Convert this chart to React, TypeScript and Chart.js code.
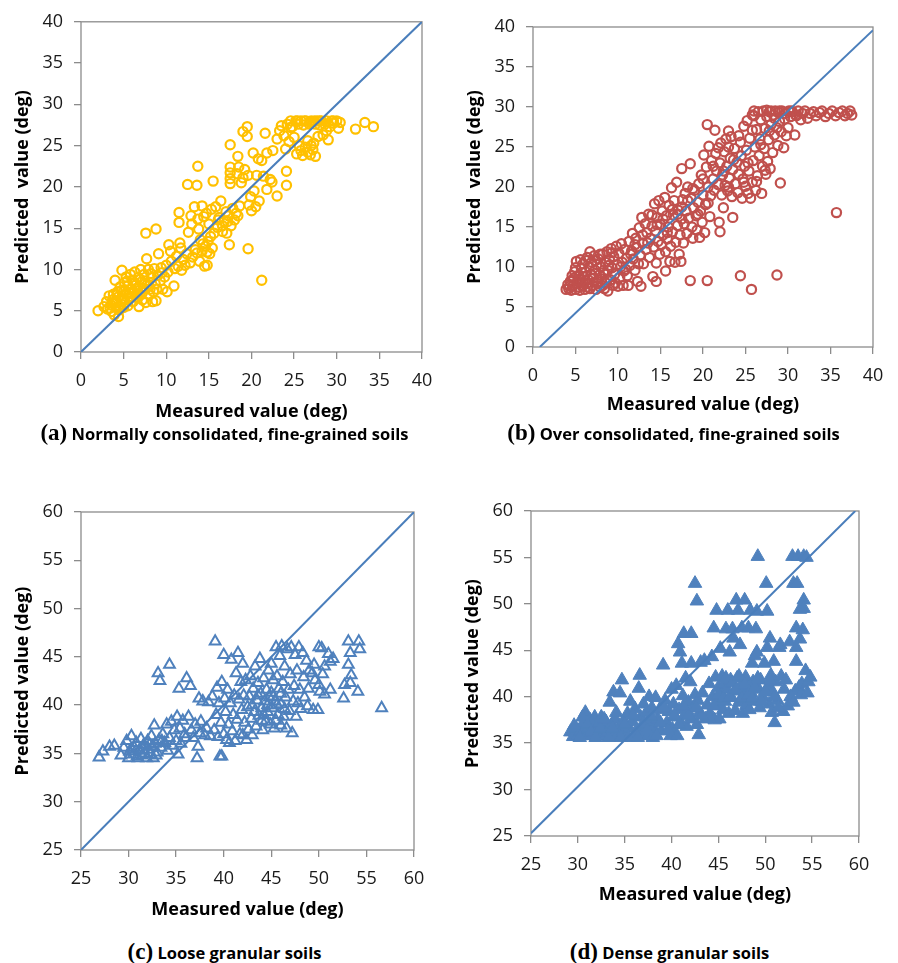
import React, { useEffect, useRef } from 'react';
import { Chart, registerables } from 'chart.js';
Chart.register(...registerables);

type Pt = [number, number];

// Panel (a): Normally consolidated, fine-grained soils  [measured, predicted]
const panelA: Pt[] = [
  [2.0,5.0],[2.7,5.5],[3.0,6.1],[3.1,5.2],[3.3,6.8],[3.5,5.7],[3.6,4.9],[3.7,6.3],[3.8,7.0],[3.9,4.5],
  [4.0,8.7],[4.1,5.4],[4.2,6.0],[4.3,7.3],[4.4,4.3],[4.4,6.7],[4.5,5.1],[4.6,7.9],[4.7,5.8],[4.8,9.9],
  [4.9,6.4],[5.0,7.3],[5.0,5.4],[5.1,8.4],[5.2,6.0],[5.3,9.1],[5.4,7.0],[5.5,5.6],[5.5,8.0],[5.7,6.6],
  [5.8,9.4],[5.9,7.6],[6.0,8.7],[6.1,6.1],[6.2,7.2],[6.3,9.7],[6.4,8.1],[6.5,6.6],[6.6,7.6],[6.7,9.0],
  [6.8,5.5],[6.9,7.0],[7.0,10.0],[7.1,8.5],[7.2,6.3],[7.3,7.7],[7.4,9.4],[7.6,6.0],[7.7,11.3],[7.6,14.4],
  [7.8,8.2],[7.9,10.0],[8.0,6.9],[8.1,7.6],[8.2,9.5],[8.4,6.1],[8.5,7.3],[8.6,10.1],[8.8,14.9],[8.7,8.3],
  [8.8,6.2],[9.0,9.3],[9.1,11.9],[9.3,8.6],[9.4,10.2],[9.6,7.6],[9.8,9.1],[10.0,10.5],[10.1,7.3],[10.2,9.7],
  [10.3,13.0],[10.5,12.2],[10.6,11.0],[10.9,8.0],[11.0,10.1],[11.2,11.6],[11.4,10.4],[11.5,16.9],[11.5,15.7],[11.6,13.2],
  [11.7,12.6],[11.8,9.9],[12.0,11.2],[12.2,10.5],[12.4,11.9],[12.5,20.3],[12.6,14.5],[12.8,10.8],[12.9,16.5],[13.0,15.5],
  [13.1,11.5],[13.3,17.6],[13.4,12.4],[13.6,20.2],[13.7,16.1],[13.7,22.5],[13.8,14.9],[13.9,11.0],[14.0,13.6],[14.2,17.7],
  [14.2,12.2],[14.4,16.4],[14.5,10.4],[14.6,12.8],[14.7,16.8],[14.8,10.5],[14.9,13.4],[15.0,15.5],[15.1,11.9],[15.3,17.3],
  [15.4,12.6],[15.5,20.7],[15.6,14.4],[15.8,17.6],[16.0,15.1],[16.2,16.3],[16.4,18.3],[16.6,14.6],[16.8,15.8],[17.0,17.0],
  [17.1,14.4],[17.3,16.5],[17.4,13.0],[17.5,25.1],[17.5,22.4],[17.5,21.7],[17.5,21.0],[17.5,20.4],[17.6,15.3],[17.8,17.4],
  [18.0,16.0],[18.2,16.8],[18.3,21.6],[18.4,23.7],[18.5,22.4],[18.6,17.7],[18.8,20.5],[19.0,26.7],[19.0,21.1],[19.2,22.1],
  [19.5,27.3],[19.5,26.1],[19.6,12.5],[19.6,21.4],[19.7,17.8],[19.9,18.8],[20.0,17.1],[20.2,24.1],[20.3,19.5],[20.5,17.6],
  [20.6,21.4],[20.8,23.4],[20.9,18.3],[21.2,23.2],[21.2,8.7],[21.4,21.3],[21.6,26.5],[21.8,24.1],[21.8,19.7],[22.2,20.9],
  [22.4,20.6],[22.5,24.4],[23.0,18.9],[23.0,25.8],[23.3,26.8],[23.5,27.4],[23.8,26.2],[24.0,24.6],[24.1,21.9],[24.1,20.2],
  [24.2,27.6],[24.4,25.5],[24.6,28.0],[24.8,27.3],[25.0,26.0],[25.2,28.0],[25.3,24.0],[25.5,27.6],[25.6,25.0],[25.8,28.0],
  [26.0,23.8],[26.1,27.5],[26.3,24.8],[26.4,28.0],[26.6,25.6],[26.8,27.6],[26.9,23.9],[27.0,28.0],[27.2,24.5],[27.3,25.3],
  [27.5,27.6],[27.5,23.7],[27.7,28.0],[27.8,26.1],[28.0,27.5],[28.2,28.0],[28.4,26.3],[28.6,27.6],[28.8,28.0],[29.0,25.7],
  [29.2,27.3],[29.4,28.0],[29.6,27.7],[30.0,28.0],[30.2,27.1],[30.4,27.8],[32.2,27.0],[33.3,27.8],[34.3,27.3],
  [3.4,5.3],[3.8,6.0],[4.2,6.9],[4.5,5.6],[4.8,7.5],[5.1,6.4],[5.4,8.6],[5.7,7.2],[6.0,6.7],[6.3,8.4],
  [6.6,7.0],[6.9,8.8],[7.2,7.2],[7.5,8.6],[8.0,8.0],[8.3,9.0],[8.9,7.6],[9.5,9.6],[13.6,12.0],[14.3,13.1],
  [14.8,12.1],[15.2,14.0],[16.1,16.0],[16.6,15.3],[17.2,15.8],[18.4,16.5],[24.6,27.2],[25.4,28.0],[26.2,28.0],[26.9,27.8],
  [27.4,28.0],[28.0,28.0],[25.8,24.4],[26.6,24.2],[27.0,25.0],[28.8,26.8],[29.6,28.0]
];

// Panel (b): Over consolidated, fine-grained soils
const panelB: Pt[] = [
  [3.9,7.2],[4.1,7.8],[4.2,7.3],[4.4,8.2],[4.5,7.1],[4.7,7.6],[4.8,8.6],[4.9,9.4],[5.0,7.2],[5.1,10.7],
  [5.2,8.0],[5.3,7.5],[5.4,9.0],[5.5,7.1],[5.6,8.4],[5.7,9.8],[5.8,7.6],[5.9,10.4],[6.0,8.8],[6.1,7.2],
  [6.2,9.4],[6.3,7.9],[6.4,11.2],[6.5,8.4],[6.6,10.0],[6.7,7.3],[6.7,11.9],[6.8,9.1],[6.9,10.6],[7.0,7.7],
  [7.1,8.6],[7.2,11.4],[7.3,9.6],[7.4,7.2],[7.5,10.3],[7.6,8.2],[7.7,11.0],[7.8,9.0],[7.9,7.5],[8.0,10.0],
  [8.1,8.5],[8.2,11.6],[8.3,9.3],[8.4,7.3],[8.5,10.6],[8.6,8.0],[8.7,11.9],[8.8,9.6],[8.8,7.0],[9.0,10.9],
  [9.1,8.4],[9.2,12.3],[9.3,9.9],[9.4,7.7],[9.5,11.3],[9.6,9.1],[9.8,12.6],[9.9,10.3],[10.0,7.6],[10.1,11.7],
  [10.2,8.7],[10.4,12.9],[10.5,10.6],[10.6,7.7],[10.7,9.5],[10.8,12.2],[11.0,11.1],[11.1,8.9],[11.2,7.7],[11.3,13.2],
  [11.4,10.2],[11.6,12.0],[11.7,14.2],[11.8,11.0],[12.0,9.6],[12.1,13.6],[12.2,12.4],[12.3,8.2],[12.5,14.9],[12.6,11.5],
  [12.7,7.6],[12.8,16.2],[12.9,13.0],[13.0,10.4],[13.2,15.4],[13.3,12.2],[13.4,14.3],[13.6,16.6],[13.7,11.2],[13.8,13.6],
  [14.0,15.1],[14.1,8.8],[14.2,12.5],[14.3,17.9],[14.4,14.5],[14.5,8.2],[14.5,10.5],[14.6,16.2],[14.7,13.2],[14.8,18.3],
  [14.9,11.6],[15.0,15.3],[15.1,12.8],[15.2,17.0],[15.3,14.0],[15.5,18.7],[15.6,9.5],[15.6,11.9],[15.7,16.4],[15.8,13.5],
  [15.9,15.0],[16.0,17.7],[16.1,10.7],[16.2,12.6],[16.3,19.9],[16.4,14.4],[16.5,16.5],[16.6,18.3],[16.7,10.6],[16.8,13.1],
  [16.9,20.6],[17.0,15.2],[17.1,17.1],[17.2,11.6],[17.3,14.0],[17.4,10.7],[17.5,22.3],[17.5,16.0],[17.6,18.4],[17.7,13.0],
  [17.8,15.4],[17.9,19.2],[18.0,17.0],[18.1,14.2],[18.2,20.0],[18.3,16.1],[18.5,22.9],[18.5,8.3],[18.6,18.6],[18.7,15.0],
  [18.8,13.6],[18.9,17.4],[19.0,19.6],[19.2,16.4],[19.3,14.6],[19.4,18.1],[19.5,20.4],[19.6,13.7],[19.7,17.0],[19.8,21.5],
  [19.9,15.6],[20.0,19.0],[20.1,24.0],[20.2,14.3],[20.3,17.8],[20.4,22.5],[20.5,27.8],[20.5,8.3],[20.6,20.0],[20.7,25.1],
  [20.8,16.3],[20.9,18.9],[21.0,23.3],[21.2,21.0],[21.3,19.6],[21.4,27.1],[21.5,24.2],[21.6,22.0],[21.8,20.3],[21.9,15.6],
  [22.0,14.4],[22.0,23.0],[22.1,25.5],[22.2,19.0],[22.3,21.5],[22.4,17.4],[22.5,24.4],[22.6,20.2],[22.7,26.0],[22.8,22.6],
  [22.9,19.5],[23.0,27.0],[23.0,25.0],[23.1,21.1],[23.2,23.6],[23.3,26.3],[23.4,18.8],[23.5,16.2],[23.5,22.2],[23.7,24.8],
  [23.8,20.4],[24.0,23.1],[24.1,19.3],[24.2,21.6],[24.4,8.9],[24.4,25.6],[24.5,23.9],[24.6,18.6],[24.7,21.0],[24.8,27.6],
  [24.9,22.6],[25.0,20.1],[25.1,24.6],[25.2,28.3],[25.3,19.2],[25.4,22.0],[25.5,26.1],[25.6,18.6],[25.7,7.2],[25.8,20.6],
  [25.9,23.3],[26.0,28.9],[26.1,25.0],[26.2,19.6],[26.3,27.2],[26.4,21.4],[26.5,29.4],[26.6,23.9],[26.7,26.0],[26.8,28.4],
  [26.9,19.2],[27.0,22.6],[27.1,29.5],[27.2,24.8],[27.3,27.3],[27.4,21.6],[27.5,28.8],[27.6,23.2],[27.7,25.9],[27.8,29.4],
  [27.9,22.3],[28.0,27.8],[28.2,24.3],[28.3,29.0],[28.4,26.5],[28.5,29.5],[28.7,9.0],[28.7,27.4],[28.8,25.2],[28.9,29.3],
  [29.0,28.2],[29.1,20.5],[29.2,26.9],[29.3,29.5],[29.5,24.9],[29.6,28.5],[29.7,29.2],[30.0,27.4],[30.1,29.5],[30.3,28.8],
  [30.5,29.4],[30.8,26.5],[30.9,29.0],[31.2,29.5],[31.5,28.4],[31.7,29.2],[32.0,29.5],[32.3,28.6],[32.6,29.2],[33.0,29.4],
  [33.3,28.9],[33.7,29.3],[34.0,29.5],[34.4,28.8],[34.8,29.2],[35.2,29.5],[35.7,16.8],[35.6,28.9],[36.0,29.3],[36.4,29.5],
  [36.7,28.9],[37.0,29.2],[37.3,29.5],[37.5,29.0],
  [4.3,7.6],[4.6,8.9],[5.0,9.9],[5.3,8.3],[5.6,10.9],[5.9,8.1],[6.2,10.8],[6.4,7.5],[6.9,9.0],[7.3,10.8],
  [7.6,7.9],[7.9,11.6],[8.2,7.7],[8.5,9.1],[8.9,10.2],[9.3,11.8],[9.7,8.0],[10.3,10.0],[10.9,9.7],[11.5,11.6],
  [12.0,12.8],[12.4,10.4],[12.9,14.0],[13.5,13.0],[14.0,16.5],[14.6,15.3],[15.3,16.0],[15.8,14.3],[16.4,17.2],[17.0,16.6],
  [17.5,17.5],[18.2,18.3],[18.8,19.8],[19.4,16.6],[20.0,21.0],[20.6,18.0],[21.2,22.6],[21.8,24.9],[22.4,22.0],[23.0,20.0],
  [23.6,23.4],[24.2,26.4],[24.8,20.6],[25.3,23.0],[25.8,27.1],[26.3,20.7],[26.8,25.3],[27.3,22.1],[27.8,27.0],[28.4,28.6],
  [29.0,29.5],[29.8,26.4],[30.4,29.5],[31.0,28.9],[26.0,29.5],[27.5,29.6],[28.0,29.5],[25.8,29.0]
];

// Panel (c): Loose granular soils
const panelC: Pt[] = [
  [26.9,34.6],[27.3,35.2],[28.0,35.7],[28.5,35.8],[29.2,34.8],[29.5,35.6],[29.8,36.3],[30.0,34.5],[30.1,35.2],[30.3,36.8],
  [30.5,34.9],[30.6,35.6],[30.8,36.1],[31.0,34.5],[31.1,35.3],[31.3,36.5],[31.4,34.8],[31.6,35.9],[31.7,35.0],[31.9,34.5],
  [32.0,36.3],[32.1,35.4],[32.3,34.9],[32.4,36.8],[32.5,35.7],[32.6,34.5],[32.7,37.9],[32.8,36.0],[33.0,35.1],[33.1,43.3],
  [33.3,42.5],[33.2,36.4],[33.4,35.6],[33.6,37.0],[33.8,36.1],[34.0,38.0],[34.1,35.3],[34.3,44.2],[34.3,36.6],[34.5,38.3],
  [34.6,35.8],[34.8,37.4],[35.0,36.3],[35.1,38.8],[35.2,34.9],[35.3,41.7],[35.4,37.6],[35.5,36.0],[35.7,38.4],[35.9,37.0],
  [36.1,42.8],[36.0,36.6],[36.3,38.8],[36.5,42.0],[36.6,37.4],[36.8,36.6],[37.0,38.0],[37.2,34.5],[37.3,35.7],[37.4,40.7],
  [37.5,37.1],[37.6,38.3],[37.8,40.4],[38.0,36.9],[38.2,37.6],[38.4,40.3],[38.6,36.8],[38.8,40.9],[39.0,37.4],[39.1,46.6],
  [39.2,39.0],[39.3,41.8],[39.4,36.7],[39.5,40.2],[39.6,34.7],[39.8,34.7],[39.7,38.2],[39.8,42.4],[40.0,45.2],[40.0,37.0],
  [40.1,40.7],[40.2,39.3],[40.3,36.4],[40.4,41.6],[40.5,38.0],[40.6,36.1],[40.7,40.2],[40.8,44.7],[40.9,37.3],[41.0,39.0],
  [41.1,41.0],[41.2,36.3],[41.3,43.3],[41.4,38.5],[41.5,45.4],[41.6,40.6],[41.7,37.0],[41.8,42.4],[41.9,39.5],[42.0,44.3],
  [42.0,36.9],[42.1,41.0],[42.2,38.2],[42.3,42.6],[42.4,36.4],[42.5,39.8],[42.6,37.5],[42.7,40.9],[42.8,43.0],[42.9,38.6],
  [43.0,36.9],[43.1,41.7],[43.2,39.3],[43.3,44.0],[43.4,37.8],[43.5,40.5],[43.6,42.3],[43.7,38.9],[43.8,44.8],[43.9,41.2],
  [44.0,39.7],[44.1,37.4],[44.2,42.8],[44.3,40.4],[44.4,38.3],[44.5,41.6],[44.6,39.3],[44.7,43.6],[44.8,40.8],[44.9,38.0],
  [45.0,44.3],[45.0,41.3],[45.1,39.7],[45.2,42.6],[45.3,37.6],[45.4,40.4],[45.5,46.0],[45.6,43.0],[45.7,39.0],[45.8,41.7],
  [45.9,45.1],[46.0,40.1],[46.0,37.9],[46.1,46.1],[46.2,42.4],[46.3,38.8],[46.4,44.0],[46.5,40.8],[46.6,37.6],[46.7,45.8],
  [46.8,41.6],[46.9,39.4],[47.0,43.2],[47.1,46.0],[47.2,37.1],[47.3,40.4],[47.4,42.0],[47.5,45.2],[47.6,38.8],[47.7,43.6],
  [47.8,40.2],[47.9,46.0],[48.0,41.6],[48.1,39.6],[48.3,45.4],[48.4,42.9],[48.5,40.8],[48.7,44.6],[48.8,39.9],[48.9,41.7],
  [49.0,43.6],[49.3,43.3],[49.4,39.5],[49.5,44.2],[49.6,42.6],[49.9,39.5],[50.0,46.0],[50.0,42.1],[50.1,41.4],[50.3,45.9],
  [50.4,43.2],[50.6,41.1],[50.6,44.0],[51.0,45.3],[51.2,41.6],[51.2,44.5],[51.5,44.8],[52.6,40.7],[52.7,42.1],[53.1,44.2],
  [53.1,46.6],[53.3,45.4],[53.3,42.3],[53.4,43.1],[54.1,41.4],[54.2,46.6],[54.3,45.8],[56.6,39.7],
  [30.4,35.4],[30.9,34.7],[31.5,35.4],[32.2,35.9],[32.9,34.8],[33.5,36.3],[43.0,40.0],[43.6,41.0],[44.2,39.0],[44.6,40.0],
  [45.2,40.9],[45.6,40.0],[46.0,41.2],[46.4,39.6],[45.5,38.4],[44.0,38.4]
];

// Panel (d): Dense granular soils
const panelD: Pt[] = [
  [29.2,36.2],[29.5,35.7],[29.8,36.6],[30.0,35.8],[30.3,36.3],[30.6,37.2],[30.8,38.3],[30.9,35.8],[31.1,36.6],[31.3,37.5],
  [31.5,35.8],[31.6,36.9],[31.8,37.8],[32.0,36.3],[32.2,35.8],[32.3,37.2],[32.5,37.8],[32.7,36.5],[32.9,35.8],[33.0,37.3],
  [33.2,36.2],[33.4,39.4],[33.5,35.8],[33.6,37.0],[33.8,40.5],[33.9,36.4],[34.0,37.6],[34.2,35.8],[34.4,36.8],[34.5,40.4],
  [34.7,41.8],[34.8,36.2],[34.9,37.4],[35.1,35.8],[35.3,38.2],[35.5,36.6],[35.6,39.5],[35.8,37.3],[36.0,35.8],[36.1,38.7],
  [36.3,36.4],[36.5,40.9],[36.6,42.3],[36.7,37.8],[36.8,35.8],[37.0,39.2],[37.1,36.9],[37.3,38.3],[37.5,35.8],[37.6,40.0],
  [37.7,37.2],[37.9,38.8],[38.0,35.6],[38.1,36.6],[38.3,39.9],[38.5,37.6],[38.7,38.6],[38.9,36.3],[39.1,43.4],[39.3,39.6],
  [39.5,37.2],[39.7,38.4],[39.9,35.8],[40.0,40.8],[40.1,36.5],[40.2,39.2],[40.4,37.8],[40.5,41.2],[40.6,35.8],[40.7,45.7],
  [40.8,38.6],[40.9,44.8],[41.0,37.2],[41.1,43.6],[41.2,40.1],[41.3,46.8],[41.4,38.0],[41.5,42.0],[41.6,36.8],[41.8,39.4],
  [42.0,41.6],[42.1,46.8],[42.1,43.6],[42.2,37.6],[42.3,38.8],[42.5,52.2],[42.5,40.2],[42.7,50.3],[42.7,37.0],[42.8,39.6],
  [42.9,35.9],[43.0,38.3],[43.1,43.7],[43.3,40.4],[43.5,43.9],[43.6,37.6],[43.8,39.1],[44.0,41.4],[44.1,38.2],[44.3,44.3],
  [44.4,40.0],[44.5,47.4],[44.6,37.5],[44.7,42.1],[44.8,49.3],[44.9,39.2],[45.0,41.0],[45.1,37.6],[45.2,45.2],[45.3,40.3],
  [45.4,42.2],[45.5,38.6],[45.6,41.4],[45.7,39.5],[45.8,47.3],[45.9,40.8],[46.0,49.3],[46.1,38.2],[46.2,44.8],[46.3,41.8],
  [46.4,39.9],[46.5,47.3],[46.6,46.3],[46.7,40.6],[46.8,38.5],[46.9,50.4],[47.0,42.0],[47.1,49.3],[47.2,39.4],[47.3,45.6],
  [47.4,41.2],[47.5,47.4],[47.6,38.2],[47.7,40.2],[47.8,50.4],[47.9,42.1],[48.0,39.1],[48.1,41.0],[48.2,47.4],[48.3,38.6],
  [48.4,49.3],[48.5,40.4],[48.6,43.6],[48.7,41.6],[48.8,39.5],[48.9,44.4],[49.0,47.3],[49.1,49.2],[49.1,44.8],[49.2,55.1],
  [49.3,40.8],[49.4,38.8],[49.5,41.8],[49.7,40.0],[49.9,43.6],[50.1,52.2],[50.2,45.3],[50.2,49.2],[50.3,41.0],[50.4,39.2],
  [50.5,46.3],[50.6,42.3],[50.7,38.3],[50.8,40.5],[50.9,43.8],[51.0,37.2],[51.1,41.6],[51.3,39.6],[51.5,45.3],[51.6,45.6],
  [51.7,42.2],[51.9,38.4],[52.0,40.8],[52.2,41.8],[52.4,39.0],[52.6,45.9],[52.7,40.0],[52.9,55.1],[53.0,52.2],[53.0,39.4],
  [53.2,40.6],[53.3,47.4],[53.3,45.3],[53.3,43.8],[53.4,52.2],[53.5,55.1],[53.6,41.0],[53.7,49.4],[53.7,46.2],[53.8,40.2],
  [53.9,41.4],[54.0,47.2],[54.1,50.4],[54.1,49.5],[54.1,55.1],[54.3,42.8],[54.4,55.0],[54.5,40.4],[54.6,41.6],[54.8,42.1],
  [29.6,36.9],[30.2,35.6],[30.5,37.8],[31.0,37.0],[31.4,36.2],[31.9,35.6],[32.4,36.6],[32.8,37.6],[33.3,35.6],[33.7,36.6],
  [34.1,38.3],[34.6,35.6],[35.0,37.0],[35.4,35.6],[35.9,38.0],[36.4,35.6],[36.9,37.0],[37.4,36.4],[37.8,37.9],[38.4,35.8],
  [38.8,37.2],[39.2,38.8],[39.6,36.4],[44.5,39.0],[45.0,40.2],[45.5,39.8],[45.8,42.0],[46.2,40.0],[46.5,41.5],[46.9,40.8],
  [47.2,42.2],[47.5,39.8],[47.8,41.3],[48.2,40.2],[48.6,39.8],[48.9,41.0],[49.2,42.0],[49.6,39.5],[50.0,40.6],[50.5,41.8],
  [51.0,40.0],[51.4,38.8],[44.0,37.8],[43.2,38.0],[42.6,38.8],[41.8,38.0],[41.3,39.0],[40.8,37.0],[40.3,38.0]
];

// 1:1 reference lines [start, end]
const diagA: Pt[] = [[0, 0], [40, 40]];
const diagB: Pt[] = [[0.8, 0], [40, 39.6]];
const diagC: Pt[] = [[25, 25], [60, 60]];
const diagD: Pt[] = [[25, 25.3], [59.6, 60]];

// axis ranges [min, max, step]
const rangeFine = [0, 40, 5];
const rangeGranular = [25, 60, 5];

const xTitle = 'Measured value (deg)';
const yTitleA = 'Predicted  value (deg)';
const yTitleB = 'Predicted  value (deg)';
const yTitleCD = 'Predicted value (deg)';

const captions = [
  { tag: '(a)', text: 'Normally consolidated, fine-grained soils' },
  { tag: '(b)', text: 'Over consolidated, fine-grained soils' },
  { tag: '(c)', text: 'Loose granular soils' },
  { tag: '(d)', text: 'Dense granular soils' },
];

const SANS = "'Open Sans', 'Noto Sans', sans-serif";
const AXIS_GREY = '#8c8c8c';
const LINE_BLUE = '#4a7ebb';

interface PanelCfg {
  left: number; top: number; w: number; h: number;
  pad: { left: number; top: number; right: number; bottom: number };
  yW: number; xH: number;
  range: number[];
  data: Pt[]; diag: Pt[];
  color: string; style: 'circle' | 'triangle'; filled: boolean; radius: number; bw: number;
  yTitle: string;
}

const panels: PanelCfg[] = [
  { left: 0, top: 0, w: 449, h: 430, pad: { left: 12, top: 16, right: 27, bottom: 7 }, yW: 69, xH: 71,
    range: rangeFine, data: panelA, diag: diagA, color: '#ffc000', style: 'circle', filled: false, radius: 4.6, bw: 2.2, yTitle: yTitleA },
  { left: 449, top: 0, w: 449, h: 430, pad: { left: 15, top: 27, right: 25, bottom: 14 }, yW: 69, xH: 69,
    range: rangeFine, data: panelB, diag: diagB, color: '#c0504d', style: 'circle', filled: false, radius: 4.6, bw: 2.2, yTitle: yTitleB },
  { left: 0, top: 470, w: 449, h: 460, pad: { left: 12, top: 42, right: 35, bottom: 9 }, yW: 69, xH: 71,
    range: rangeGranular, data: panelC, diag: diagC, color: '#4f81bd', style: 'triangle', filled: false, radius: 6.2, bw: 2, yTitle: yTitleCD },
  { left: 449, top: 470, w: 449, h: 460, pad: { left: 13, top: 41, right: 39, bottom: 24 }, yW: 69, xH: 70,
    range: rangeGranular, data: panelD, diag: diagD, color: '#4f81bd', style: 'triangle', filled: true, radius: 7.8, bw: 1, yTitle: yTitleCD },
];

const framePlugin = {
  id: 'frame',
  beforeDatasetsDraw(chart: any) {
    const { ctx, chartArea } = chart;
    const { left, top, right, bottom } = chartArea;
    ctx.save();
    ctx.strokeStyle = AXIS_GREY;
    ctx.lineWidth = 1.3;
    ctx.strokeRect(left, top, right - left, bottom - top);
    ctx.restore();
  },
};

function Panel({ cfg }: { cfg: PanelCfg }) {
  const ref = useRef<HTMLCanvasElement | null>(null);
  useEffect(() => {
    if (!ref.current) return;
    const [min, max, step] = cfg.range;
    const tickFont = { family: SANS, size: 18 };
    const titleFont = { family: SANS, size: 18, weight: 'bold' as const };
    const grid = { display: true, drawOnChartArea: false, drawTicks: true, tickLength: 7, color: AXIS_GREY, lineWidth: 1.3 };
    const chart = new Chart(ref.current, {
      type: 'scatter',
      data: {
        datasets: [
          {
            data: cfg.diag.map(([x, y]) => ({ x, y })),
            showLine: true,
            borderColor: LINE_BLUE,
            borderWidth: 2,
            pointRadius: 0,
            order: 0,
          } as any,
          {
            data: cfg.data.map(([x, y]) => ({ x, y })),
            pointStyle: cfg.style,
            pointRadius: cfg.radius,
            pointBorderWidth: cfg.bw,
            borderColor: cfg.color,
            backgroundColor: cfg.filled ? cfg.color : 'rgba(0,0,0,0)',
            pointBackgroundColor: cfg.filled ? cfg.color : 'rgba(0,0,0,0)',
            pointBorderColor: cfg.color,
            order: 1,
          } as any,
        ],
      },
      options: {
        animation: false,
        responsive: false,
        maintainAspectRatio: false,
        devicePixelRatio: 1,
        layout: { padding: cfg.pad },
        plugins: { legend: { display: false }, tooltip: { enabled: false } },
        events: [],
        scales: {
          x: {
            type: 'linear', min, max,
            ticks: { stepSize: step, font: tickFont, color: '#1a1a1a', padding: 11 },
            grid, border: { display: false },
            title: { display: true, text: xTitle, font: titleFont, color: '#000', padding: 0 },
            afterFit: (s: any) => { s.height = cfg.xH; },
          },
          y: {
            type: 'linear', min, max,
            ticks: { stepSize: step, font: tickFont, color: '#1a1a1a', padding: 11 },
            grid, border: { display: false },
            title: { display: true, text: cfg.yTitle, font: titleFont, color: '#000', padding: 0 },
            afterFit: (s: any) => { s.width = cfg.yW; },
          },
        },
      } as any,
      plugins: [framePlugin],
    });
    return () => chart.destroy();
  }, [cfg]);
  return (
    <canvas
      ref={ref}
      width={cfg.w}
      height={cfg.h}
      style={{ position: 'absolute', left: cfg.left, top: cfg.top, width: cfg.w, height: cfg.h }}
    />
  );
}

const captionPos = [
  { left: 0, top: 419 },
  { left: 449, top: 419 },
  { left: 0, top: 938 },
  { left: 445, top: 938 },
];

export default function App() {
  return (
    <div style={{ position: 'absolute', left: 0, top: 0, width: 898, height: 963, background: '#fff', overflow: 'hidden' }}>
      {panels.map((p, i) => <Panel key={i} cfg={p} />)}
      {captions.map((c, i) => (
        <div key={'c' + i} style={{
          position: 'absolute', left: captionPos[i].left, top: captionPos[i].top, width: 449, height: 28,
          lineHeight: '28px', textAlign: 'center', whiteSpace: 'nowrap', color: '#000',
        }}>
          <span style={{ fontFamily: "'Liberation Serif', serif", fontWeight: 'bold', fontSize: 23 }}>{c.tag}</span>
          <span style={{ fontFamily: SANS, fontWeight: 'bold', fontSize: 16.5 }}> {c.text}</span>
        </div>
      ))}
    </div>
  );
}
